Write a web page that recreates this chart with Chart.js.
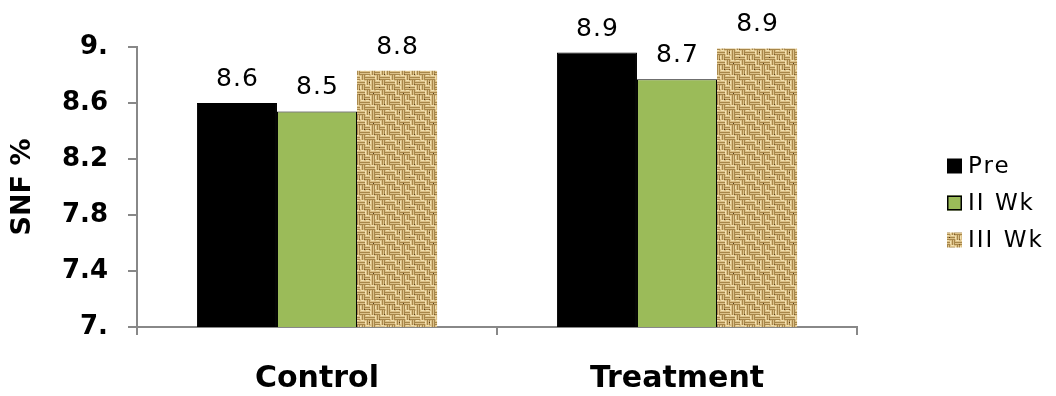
<!DOCTYPE html>
<html>
<head>
<meta charset="utf-8">
<script src="https://cdn.jsdelivr.net/npm/chart.js@4/dist/chart.umd.min.js"></script>
<style>
  html, body { margin: 0; padding: 0; background: #fff; }
  #wrap { width: 1056px; height: 396px; }
</style>
</head>
<body>
<div id="wrap"><canvas id="c" width="1056" height="396"></canvas></div>
<script>
// Solids-not-fat content by group and week
const categories = ['Control', 'Treatment'];
const seriesNames = ['Pre', 'II Wk', 'III Wk'];
const preValues = [8.6, 8.96];
const wk2Values = [8.54, 8.77];
const wk3Values = [8.83, 8.99];
const yTickValues = [7, 7.4, 7.8, 8.2, 8.6, 9];
const yTickLabels = ['7.', '7.4', '7.8', '8.2', '8.6', '9.'];

// Woven burlap fill for the III Wk bars: strands laid in an irregular weave
function makeBurlap() {
  const cell = 5;
  const weave = [
    'HVHHVH',
    'VHVVHV',
    'HHVHVV',
    'VHHVHH',
    'HVVHVH',
    'VHVHHV'
  ];
  const n = cell * weave.length;
  const t = document.createElement('canvas');
  t.width = n; t.height = n;
  const g = t.getContext('2d');
  g.fillStyle = '#A8874A';
  g.fillRect(0, 0, n, n);
  for (let j = 0; j < weave.length; j++) {
    for (let i = 0; i < weave[j].length; i++) {
      const x = i * cell, y = j * cell;
      const horiz = weave[j][i] === 'H';
      g.fillStyle = '#DCC189';
      if (horiz) {
        g.fillRect(x, y, cell, 2);
        g.fillRect(x, y + 3, cell, 1);
        g.fillStyle = '#F2E1B0';
        g.fillRect(x + 1, y, 3, 1);
      } else {
        g.fillRect(x, y, 2, cell);
        g.fillRect(x + 3, y, 1, cell);
        g.fillStyle = '#F2E1B0';
        g.fillRect(x, y + 1, 1, 3);
      }
      g.fillStyle = '#7E5C2A';
      if ((i * 7 + j * 3) % 5 === 0) g.fillRect(x + 4, y + 4, 1, 1);
    }
  }
  g.fillStyle = '#503818';
  [[4, 9], [13, 3], [9, 22], [24, 14], [19, 27]].forEach(p => g.fillRect(p[0], p[1], 1, 1));
  return g.createPattern(t, 'repeat');
}

const ctx = document.getElementById('c').getContext('2d');
const burlap = makeBurlap();
const fills = ['#000000', '#9BBB59', burlap];
const borders = ['#000000', '#000000', 'rgba(0,0,0,0)'];

function labelText(v) {
  return (Math.floor(v * 10 + 1e-6) / 10).toFixed(1);
}

// Value labels above each bar
const valueLabels = {
  id: 'valueLabels',
  afterDatasetsDraw(chart) {
    const c = chart.ctx;
    c.save();
    c.font = '25px "DejaVu Sans"';
    c.letterSpacing = '1px';
    c.fillStyle = '#000';
    c.textAlign = 'center';
    c.textBaseline = 'alphabetic';
    chart.data.datasets.forEach((ds, di) => {
      chart.getDatasetMeta(di).data.forEach((bar, i) => {
        c.fillText(labelText(ds.data[i]), bar.x + 0.5, bar.y - 17);
      });
    });
    c.restore();
  }
};

// Legend on the right
const sideLegend = {
  id: 'sideLegend',
  afterDraw(chart) {
    const c = chart.ctx;
    c.save();
    c.font = '23px "DejaVu Sans"';
    c.letterSpacing = '2px';
    c.textBaseline = 'middle';
    c.textAlign = 'left';
    const x = 947, size = 15;
    const ys = [166, 203, 240];
    seriesNames.forEach((name, i) => {
      const y = ys[i];
      c.fillStyle = fills[i];
      c.fillRect(x, y - size / 2, size, size);
      if (i === 1) {
        c.strokeStyle = '#000';
        c.lineWidth = 1.5;
        c.strokeRect(x + 0.75, y - size / 2 + 0.75, size - 1.5, size - 1.5);
      }
      c.fillStyle = '#000';
      c.fillText(name, 968, y + 1);
    });
    c.restore();
  }
};

new Chart(ctx, {
  type: 'bar',
  data: {
    labels: categories,
    datasets: [preValues, wk2Values, wk3Values].map((vals, i) => ({
      label: seriesNames[i],
      data: vals,
      backgroundColor: fills[i],
      borderColor: borders[i],
      borderWidth: i === 2 ? 0 : 1,
      categoryPercentage: 0.667,
      barPercentage: 1.0
    }))
  },
  options: {
    responsive: false,
    animation: false,
    layout: { padding: { left: 0, right: 199, top: 47, bottom: 0 } },
    plugins: {
      legend: { display: false },
      tooltip: { enabled: false }
    },
    scales: {
      x: {
        grid: { display: true, drawOnChartArea: false, drawTicks: true, tickLength: 8, color: '#888', lineWidth: 2 },
        border: { display: true, color: '#888', width: 2 },
        ticks: { color: '#000', font: { family: 'DejaVu Sans', size: 30, weight: 'bold' }, padding: 26 },
        afterFit(scale) { scale.height = 69; }
      },
      y: {
        min: 7,
        max: 9,
        afterBuildTicks(scale) { scale.ticks = yTickValues.map(v => ({ value: v })); },
        grid: { display: true, drawOnChartArea: false, drawTicks: true, tickLength: 9, color: '#888', lineWidth: 2 },
        border: { display: true, color: '#888', width: 2 },
        ticks: {
          color: '#000',
          font: { family: 'DejaVu Sans', size: 26, weight: 'bold' },
          padding: 20,
          callback(value, index) { return yTickLabels[index]; }
        },
        title: {
          display: true,
          text: 'SNF %',
          color: '#000',
          font: { family: 'DejaVu Sans', size: 27, weight: 'bold' },
          padding: { top: 7, bottom: 0 }
        },
        afterFit(scale) { scale.width = 137; }
      }
    }
  },
  plugins: [valueLabels, sideLegend]
});
</script>
</body>
</html>
